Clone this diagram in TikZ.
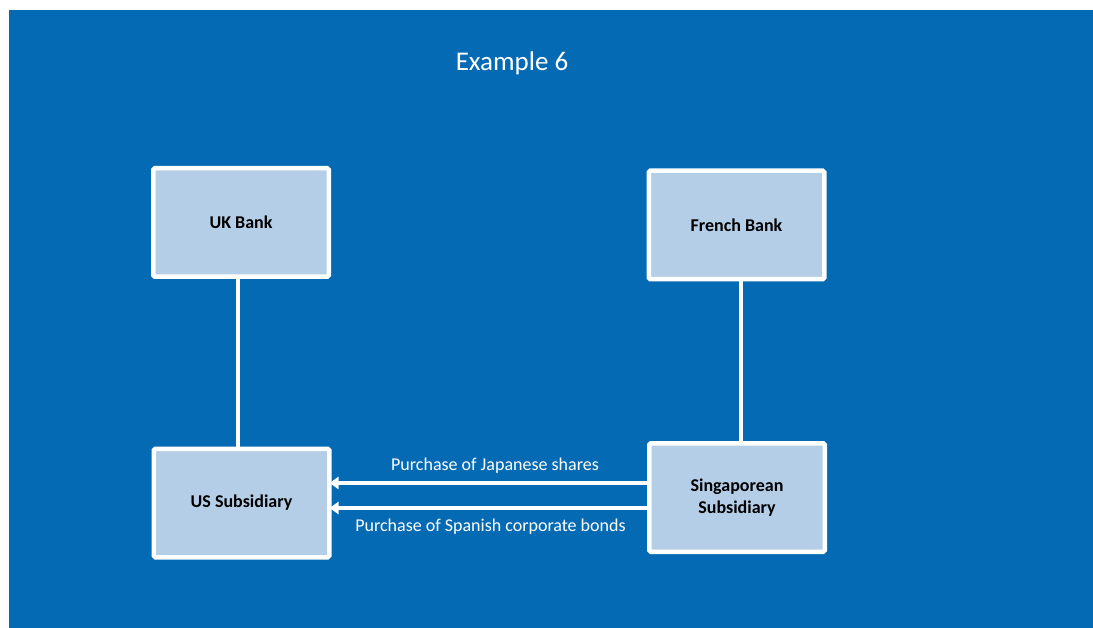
\documentclass[tikz,border=0pt]{standalone}
\usepackage{fontspec}
\setmainfont{Carlito}
\usetikzlibrary{arrows.meta}
\definecolor{bgblue}{RGB}{5,106,180}
\definecolor{boxblue}{RGB}{180,206,232}
\begin{document}
\begin{tikzpicture}[x=1pt,y=-1pt,
  entity/.style={draw=white, line width=4.5pt, fill=boxblue, rounded corners=1.5pt,
    minimum width=175.5pt, minimum height=108.5pt, inner sep=0pt,
    font=\fontsize{18}{22}\selectfont\bfseries, align=center, text=black},
  link/.style={draw=white, line width=3.5pt},
  flow/.style={draw=white, line width=3.5pt, -{Triangle[length=9pt,width=12pt]}, shorten >=-2pt},
  lbl/.style={text=white, font=\fontsize{18}{22}\selectfont, inner sep=0pt}]
\useasboundingbox (0,0) rectangle (1093,628);
\fill[white] (0,0) rectangle (1093,628);
\fill[bgblue] (9,10) rectangle (1093,628);
\node[text=white, font=\fontsize{27}{32}\selectfont] (title) at (512,63) {Example 6};
\node[entity] (uk) at (241,222.5) {UK Bank};
\node[entity] (fr) at (736.5,225) {French Bank};
\node[entity] (us) at (241.5,503) {US Subsidiary};
\node[entity] (sg) at (737,497.5) {Singaporean\\Subsidiary};
\draw[link] (uk.south -| 238,0) -- (us.north -| 238,0);
\draw[link] (fr.south -| 741,0) -- (sg.north -| 741,0);
\coordinate (a1s) at (sg.west |- 0,483);
\coordinate (a1e) at (us.east |- 0,483);
\coordinate (a2s) at (sg.west |- 0,508);
\coordinate (a2e) at (us.east |- 0,508);
\draw[flow] (a1s) -- (a1e);
\draw[flow] (a2s) -- (a2e);
\node[lbl] (l1) at (495,466) {Purchase of Japanese shares};
\node[lbl] (l2) at (490.5,527) {Purchase of Spanish corporate bonds};
\end{tikzpicture}
\end{document}
